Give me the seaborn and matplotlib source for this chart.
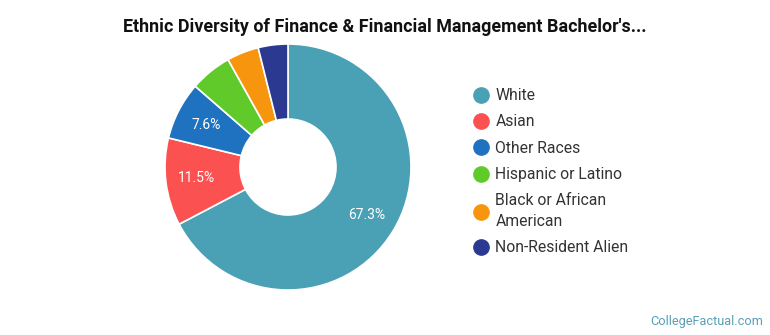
import matplotlib
matplotlib.use("Agg")
import matplotlib.pyplot as plt
from matplotlib.lines import Line2D
import seaborn as sns

# ---------------------------------------------------------------------------
# Data
# ---------------------------------------------------------------------------
groups = ["White", "Asian", "Other Races", "Hispanic or Latino",
          "Black or African\nAmerican", "Non-Resident Alien"]
shares = [67.3, 11.5, 7.6, 5.5, 4.2, 3.9]
colors = ["#4aa0b5", "#fc5151", "#1f72bf", "#5fca2a", "#f7950f", "#2b3990"]
min_label = 7.0  # slices below this share get no percentage label

sns.set_theme(style="white")
plt.rcParams["font.family"] = ["Roboto", "DejaVu Sans"]

fig = plt.figure(figsize=(7.7, 3.35), dpi=100)

# pie axes: centre ~ (288, 167) px, radius ~123 px
R = 123
pad = 2
ax = fig.add_axes([(288 - R - pad) / 770, (335 - 167 - R - pad) / 335,
                   2 * (R + pad) / 770, 2 * (R + pad) / 335])

wedges, texts, autotexts = ax.pie(
    shares,
    colors=colors,
    startangle=90,
    counterclock=False,
    radius=1,
    autopct=lambda p: f"{p:.1f}%" if p >= min_label else "",
    pctdistance=0.75,
    wedgeprops=dict(width=1 - 48 / R, edgecolor="white", linewidth=1.2),
    textprops=dict(color="white", fontsize=10),
)
lim = (R + pad) / R
ax.set_xlim(-lim, lim)
ax.set_ylim(-lim, lim)
ax.set_aspect("equal")
ax.axis("off")

# legend with round markers
handles = [Line2D([0], [0], marker="o", linestyle="", markersize=11,
                  markerfacecolor=c, markeredgecolor=c) for c in colors]
leg = fig.legend(handles, groups, loc="upper left",
                 bbox_to_anchor=(457 / 770, 1 - 74 / 335),
                 frameon=False, fontsize=11.3, handletextpad=0.35,
                 labelspacing=0.72, handlelength=1.2, labelcolor="#333333")
for t in leg.get_texts():
    t.set_linespacing(1.45)

fig.text(385 / 770, 1 - 27 / 335,
         "Ethnic Diversity of Finance & Financial Management Bachelor's...",
         ha="center", va="center", fontsize=12.9, fontweight="bold",
         color="#111111")

fig.text(763 / 770, 1 - 321 / 335, "CollegeFactual.com", ha="right",
         va="center", fontsize=9.2, color="#5a9fb5")

fig.savefig("out.png", dpi=100)
